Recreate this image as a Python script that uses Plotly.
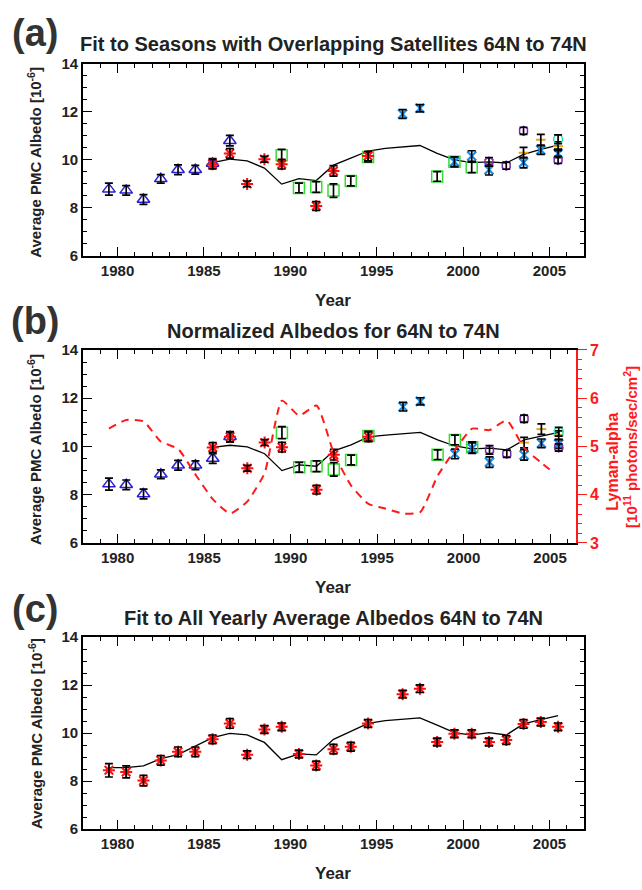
import plotly.graph_objects as go

# ---------------- data ----------------
# panel (a) and (b): individual satellite series (x = season mid-year)
tri_x = [1979.5, 1980.5, 1981.5, 1982.5, 1983.5, 1984.5, 1985.5, 1986.5]
tri_a = [8.78, 8.73, 8.35, 9.21, 9.59, 9.59, 9.85, 10.80]
tri_b = [8.44, 8.41, 8.03, 8.85, 9.22, 9.22, 9.50, 10.40]
tri_e = [0.25, 0.2, 0.2, 0.18, 0.2, 0.18, 0.2, 0.22]

ast_x = [1985.5, 1986.5, 1987.5, 1988.5, 1989.5, 1991.5, 1992.5, 1994.5]
ast_a = [9.82, 10.27, 9.00, 10.03, 9.82, 8.08, 9.54, 10.16]
ast_b = [9.96, 10.40, 9.10, 10.16, 9.97, 8.21, 9.66, 10.40]
ast_e = [0.2, 0.2, 0.12, 0.12, 0.2, 0.18, 0.22, 0.2]

sq_x = [1989.5, 1990.5, 1991.5, 1992.5, 1993.5, 1994.5, 1998.5, 1999.5, 2000.5]
sq_a = [10.19, 8.83, 8.87, 8.72, 9.12, 10.12, 9.31, 9.92, 9.69]
sq_b = [10.57, 9.14, 9.18, 9.05, 9.44, 10.43, 9.66, 10.27, 9.97]
sq_e = [0.25, 0.2, 0.22, 0.28, 0.2, 0.2, 0.2, 0.2, 0.22]

xx_x = [1996.5, 1997.5, 1999.5, 2000.5, 2001.5, 2003.5, 2004.5, 2005.5]
xx_a = [11.91, 12.15, 9.92, 10.16, 9.59, 9.89, 10.41, 10.27]
xx_b = [11.65, 11.87, 9.69, 9.93, 9.35, 9.65, 10.13, 10.10]
xx_e = [0.18, 0.15, 0.2, 0.22, 0.22, 0.22, 0.18, 0.18]

pu_x = [2001.5, 2002.5, 2003.5, 2005.5]
pu_a = [9.92, 9.76, 11.21, 10.00]
pu_b = [9.86, 9.70, 11.15, 9.96]
pu_e = [0.18, 0.15, 0.15, 0.15]

or_x = [2003.5, 2004.5, 2005.5]
or_a = [10.30, 10.84, 10.57]
or_b = [10.16, 10.72, 10.47]
or_e = [0.22, 0.22, 0.18]

cy_x = [2005.5]
cy_a = [10.86]
cy_b = [10.61]
cy_e = [0.18]

# fits for (a) and (b)
fit_x = [1985.5 + i for i in range(21)]
fit_a = [9.89, 10.03, 9.96, 9.66, 8.99, 9.22, 9.14, 9.78, 10.07, 10.37, 10.48,
         10.54, 10.60, 10.27, 10.00, 9.89, 9.92, 9.87, 10.23, 10.44, 10.62]
fit_b = [9.96, 10.05, 9.98, 9.70, 9.00, 9.24, 9.18, 9.82, 10.07, 10.40, 10.47,
         10.54, 10.58, 10.27, 10.02, 9.90, 9.93, 9.86, 10.27, 10.43, 10.58]

# Lyman-alpha (panel b, right axis)
lya_x = [1979.5, 1980.5, 1981.5, 1982.5, 1983.5, 1984.5, 1985.5, 1986.5, 1987.5,
         1988.5, 1989.5, 1990.5, 1991.5, 1992.5, 1993.5, 1994.5, 1995.5, 1996.5,
         1997.5, 1998.5, 1999.5, 2000.5, 2001.5, 2002.5, 2003.5, 2004.5, 2005.2]
lya_y = [5.37, 5.55, 5.52, 5.10, 4.95, 4.42, 3.91, 3.61, 3.86, 4.45, 5.95, 5.64,
         5.85, 4.86, 4.19, 3.81, 3.71, 3.61, 3.64, 4.39, 4.93, 5.37, 5.34, 5.54,
         4.97, 4.66, 4.46]

# panel (c): yearly averages
c_x = [1979.5, 1980.5, 1981.5, 1982.5, 1983.5, 1984.5, 1985.5, 1986.5, 1987.5,
       1988.5, 1989.5, 1990.5, 1991.5, 1992.5, 1993.5, 1994.5, 1996.5, 1997.5,
       1998.5, 1999.5, 2000.5, 2001.5, 2002.5, 2003.5, 2004.5, 2005.5]
c_y = [8.45, 8.38, 8.02, 8.86, 9.22, 9.22, 9.74, 10.40, 9.10, 10.15, 10.26, 9.13,
       8.65, 9.33, 9.43, 10.40, 11.62, 11.85, 9.63, 9.97, 9.97, 9.63, 9.71, 10.38,
       10.46, 10.26]
c_e = [0.28, 0.25, 0.22, 0.2, 0.2, 0.2, 0.18, 0.2, 0.16, 0.16, 0.16, 0.16,
       0.18, 0.2, 0.18, 0.16, 0.16, 0.16, 0.16, 0.16, 0.16, 0.16, 0.18, 0.18,
       0.16, 0.16]
cfit_x = [1979.5 + i for i in range(27)]
cfit_y = [8.56, 8.56, 8.63, 8.93, 9.10, 9.47, 9.81, 9.99, 9.92, 9.61, 8.89, 9.13,
          9.09, 9.74, 10.07, 10.40, 10.52, 10.58, 10.63, 10.33, 10.02, 9.91, 10.02,
          9.92, 10.38, 10.56, 10.73]

x_ticks = [1980, 1985, 1990, 1995, 2000, 2005]
y_ticks = [6, 8, 10, 12, 14]
r_ticks = [3, 4, 5, 6, 7]

panel_titles = ["Fit to Seasons with Overlapping Satellites 64N to 74N",
                "Normalized Albedos for 64N to 74N",
                "Fit to All Yearly Average Albedos 64N to 74N"]
panel_letters = ["(a)", "(b)", "(c)"]

# ---------------- figure ----------------
W, H = 642, 890
FONT = "Liberation Sans"
fig = go.Figure()


def add_series(xa, ya, x, y, e, symbol, color, size, lw=1.5):
    # markers first, then error bars on top (as in the reference)
    fig.add_trace(go.Scatter(x=x, y=y, mode="markers", xaxis=xa, yaxis=ya,
                             marker=dict(symbol=symbol, size=size, color=color,
                                         line=dict(color=color, width=lw)),
                             showlegend=False))
    fig.add_trace(go.Scatter(x=x, y=y, mode="markers", xaxis=xa, yaxis=ya,
                             error_y=dict(type="data", array=e, visible=True,
                                          color="black", thickness=1.7, width=4),
                             marker=dict(size=1, opacity=0),
                             showlegend=False, hoverinfo="skip"))


for xa, ya, data in [("x", "y", (tri_a, ast_a, sq_a, xx_a, pu_a, or_a, cy_a, fit_a)),
                     ("x2", "y2", (tri_b, ast_b, sq_b, xx_b, pu_b, or_b, cy_b, fit_b))]:
    t, a, s, xx, pu, orr, cy, ft = data
    fig.add_trace(go.Scatter(x=fit_x, y=ft, mode="lines", xaxis=xa, yaxis=ya,
                             line=dict(color="black", width=1.3), showlegend=False))
    add_series(xa, ya, tri_x, t, tri_e, "triangle-up-open", "#2a1fd6", 11)
    add_series(xa, ya, sq_x, s, sq_e, "square-open", "#33dd33", 11)
    add_series(xa, ya, ast_x, a, ast_e, "asterisk-open", "#ff1010", 10, 2)
    add_series(xa, ya, xx_x, xx, xx_e, "x-thin-open", "#1a8ee8", 9, 2.2)
    add_series(xa, ya, pu_x, pu, pu_e, "hexagon-open", "#7a2aa8", 9)
    add_series(xa, ya, or_x, orr, or_e, "line-ew-open", "#f0a010", 7, 2)
    add_series(xa, ya, cy_x, cy, cy_e, "circle-open", "#20e0b0", 9)

# Lyman alpha
fig.add_trace(go.Scatter(x=lya_x, y=lya_y, mode="lines", xaxis="x2", yaxis="y4",
                         line=dict(color="#ff1a1a", width=2, dash="8px,6px",
                                   shape="spline", smoothing=0.5),
                         showlegend=False))

# panel c
fig.add_trace(go.Scatter(x=cfit_x, y=cfit_y, mode="lines", xaxis="x3", yaxis="y3",
                         line=dict(color="black", width=1.3), showlegend=False))
add_series("x3", "y3", c_x, c_y, c_e, "asterisk-open", "#ff1010", 10, 2)

# ---------------- axes ----------------
def px_x(p):
    return p / W


def px_y(p):
    return 1 - p / H


tickfont = dict(family=FONT, size=15, color="#222", weight="bold")
frames = [(56, 252, 584, [1978, 2007]), (348, 545, 576, [1978, 2006.5]),
          (641, 837, 584, [1978, 2007])]
for i, (top, bot, right, xr) in enumerate(frames):
    sfx = "" if i == 0 else str(i + 1)
    mir = "ticks"
    fig.layout["xaxis" + sfx] = dict(
        domain=[px_x(83), px_x(right)], range=xr, anchor="y" + sfx,
        tickmode="array", tickvals=x_ticks, ticks="inside", ticklen=9,
        tickwidth=1.3, tickcolor="black", showline=True, linecolor="black",
        linewidth=1.6, mirror=mir, showgrid=False, zeroline=False,
        tickfont=tickfont,
        minor=dict(dtick=1, tick0=1980, ticks="inside", ticklen=4,
                   tickcolor="black", tickwidth=1.1, showgrid=False))
    fig.layout["yaxis" + sfx] = dict(
        domain=[px_y(bot), px_y(top)], range=[6, 14], anchor="x" + sfx,
        tickmode="array", tickvals=y_ticks, ticks="inside", ticklen=9,
        tickwidth=1.3, tickcolor="black", showline=True, linecolor="black",
        linewidth=1.6, mirror=(False if i == 1 else mir), showgrid=False,
        zeroline=False, tickfont=tickfont,
        minor=dict(dtick=0.5, tick0=6, ticks="inside", ticklen=4,
                   tickcolor="black", tickwidth=1.1, showgrid=False))

fig.layout["yaxis4"] = dict(
    overlaying="y2", side="right", anchor="x2", range=[3, 7],
    tickmode="array", tickvals=r_ticks, ticks="outside", ticklen=9,
    tickwidth=1.3, tickcolor="#ff1a1a", showline=True, linecolor="#ff1a1a",
    linewidth=1.6, showgrid=False, zeroline=False,
    tickfont=dict(family=FONT, size=16, color="#ff1a1a", weight="bold"),
    minor=dict(dtick=0.2, tick0=3, ticks="outside", ticklen=4,
               tickcolor="#ff1a1a", tickwidth=1.1, showgrid=False))

# ---------------- annotations ----------------
ann = []
title_y = [36, 329, 622]
letter_y = [24, 318, 612]
ylab_y = [157, 450, 740]
year_y = [298, 590, 882]


def note(text, x, y, size, color="#222", angle=0):
    return dict(text=text, x=px_x(x), y=px_y(y), xref="paper", yref="paper",
                xanchor="center", yanchor="middle", showarrow=False,
                textangle=angle,
                font=dict(family=FONT, size=size, color=color, weight="bold"))


for i in range(3):
    ann.append(note(panel_letters[i], 35, letter_y[i], 38, "#333"))
    ann.append(note(panel_titles[i], 334, title_y[i], 20))
    ann.append(note("Average PMC Albedo [10<sup>-6</sup>]", 35, ylab_y[i], 15,
                    angle=-90))
    ann.append(note("Year", 333, year_y[i], 17))

ann.append(note("Lyman-alpha", 613, 462, 16, "#ff1a1a", -90))
ann.append(note("[10<sup>11</sup> photons/sec/cm<sup>2</sup>]", 631, 447, 15,
                "#ff1a1a", -90))

fig.update_layout(width=W, height=H, margin=dict(l=0, r=0, t=0, b=0),
                  paper_bgcolor="white", plot_bgcolor="white",
                  annotations=ann, showlegend=False,
                  font=dict(family=FONT))

fig.write_html("out.html")
